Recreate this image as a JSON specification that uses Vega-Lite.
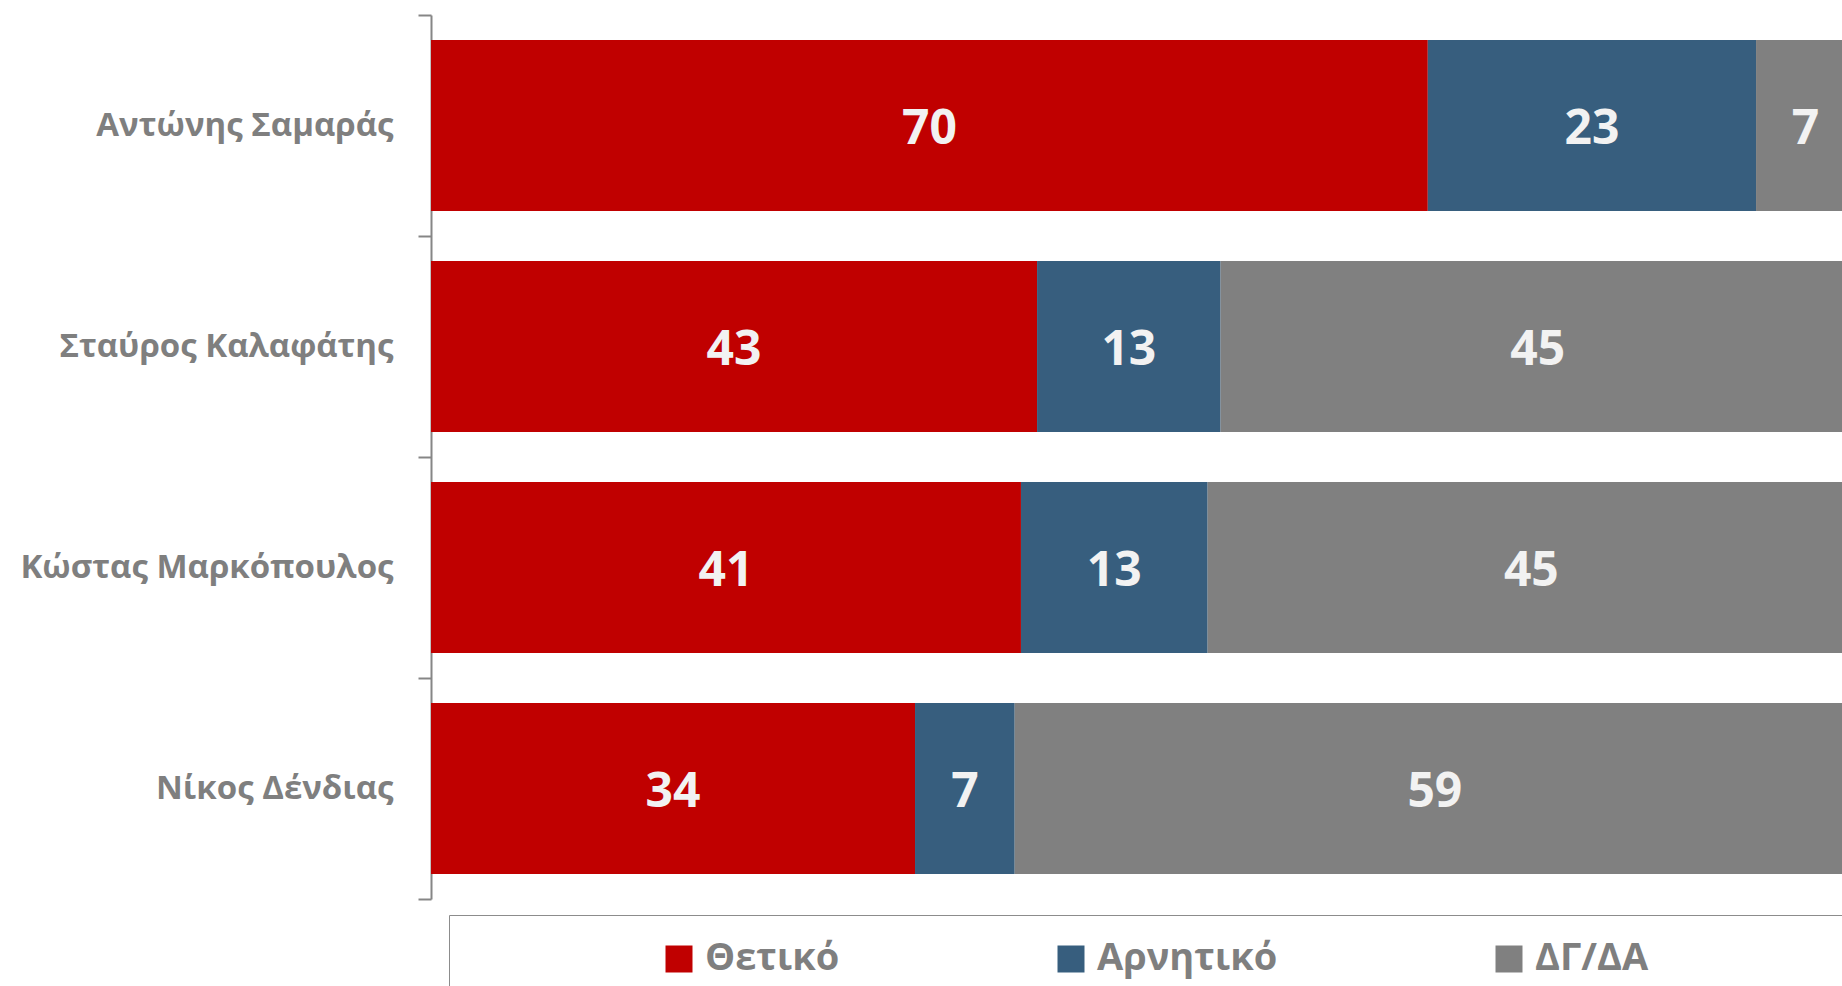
{
  "$schema": "https://vega.github.io/schema/vega-lite/v6.json",
  "autosize": {"type": "none"},
  "padding": {"left": 431, "top": 15, "right": 0, "bottom": 87},
  "width": 1424,
  "height": 884,
  "background": "white",
  "config": {"view": {"stroke": null}, "font": "Open Sans"},
  "data": {"values": [
    {"name": "Αντώνης Σαμαράς", "cat": "Θετικό", "o": 1, "v": 70.0},
    {"name": "Αντώνης Σαμαράς", "cat": "Αρνητικό", "o": 2, "v": 23.05},
    {"name": "Αντώνης Σαμαράς", "cat": "ΔΓ/ΔΑ", "o": 3, "v": 6.95},
    {"name": "Σταύρος Καλαφάτης", "cat": "Θετικό", "o": 1, "v": 42.56},
    {"name": "Σταύρος Καλαφάτης", "cat": "Αρνητικό", "o": 2, "v": 12.89},
    {"name": "Σταύρος Καλαφάτης", "cat": "ΔΓ/ΔΑ", "o": 3, "v": 44.55},
    {"name": "Κώστας Μαρκόπουλος", "cat": "Θετικό", "o": 1, "v": 41.43},
    {"name": "Κώστας Μαρκόπουλος", "cat": "Αρνητικό", "o": 2, "v": 13.11},
    {"name": "Κώστας Μαρκόπουλος", "cat": "ΔΓ/ΔΑ", "o": 3, "v": 45.46},
    {"name": "Νίκος Δένδιας", "cat": "Θετικό", "o": 1, "v": 33.99},
    {"name": "Νίκος Δένδιας", "cat": "Αρνητικό", "o": 2, "v": 7.0},
    {"name": "Νίκος Δένδιας", "cat": "ΔΓ/ΔΑ", "o": 3, "v": 59.01}
  ]},
  "encoding": {
    "y": {
      "field": "name", "type": "nominal", "sort": null,
      "scale": {"paddingInner": 0, "paddingOuter": 0},
      "axis": {
        "title": null,
        "labelFont": "Open Sans", "labelFontSize": 33, "labelFontWeight": "bold",
        "labelColor": "#7F7F7F", "labelPadding": 25, "labelLimit": 0,
        "tickSize": 13, "tickWidth": 2, "tickColor": "#868686", "tickBand": "extent",
        "domainColor": "#868686", "domainWidth": 2
      }
    }
  },
  "layer": [
    {
      "mark": {"type": "bar", "height": {"band": 0.774}},
      "encoding": {
        "x": {"field": "v", "type": "quantitative", "stack": "zero",
              "scale": {"domain": [0, 100], "nice": false}, "axis": null},
        "order": {"field": "o", "type": "quantitative"},
        "color": {
          "field": "cat", "type": "nominal",
          "scale": {"domain": ["Θετικό", "Αρνητικό", "ΔΓ/ΔΑ"], "range": ["#C00000", "#375E7E", "#808080"]},
          "legend": {
            "title": " ", "titleOrient": "right", "titlePadding": 200, "titleFontSize": 10,
            "orient": "none", "direction": "horizontal",
            "legendX": 18, "legendY": 900,
            "padding": 25, "strokeColor": "#8C8C8C",
            "symbolType": "square", "symbolSize": 729, "symbolStrokeWidth": 0, "symbolOffset": 186,
            "labelFont": "Open Sans", "labelFontSize": 38, "labelFontWeight": "bold",
            "labelColor": "#7F7F7F", "labelOffset": 7, "columnPadding": 26, "labelLimit": 0
          }
        }
      }
    },
    {
      "mark": {"type": "text", "font": "Open Sans", "fontWeight": "bold", "fontSize": 48, "color": "#F2F2F2", "baseline": "middle", "align": "center", "dy": 4},
      "encoding": {
        "x": {"field": "v", "type": "quantitative", "stack": "zero", "bandPosition": 0.5},
        "order": {"field": "o", "type": "quantitative"},
        "detail": {"field": "cat"},
        "text": {"field": "v", "type": "quantitative", "format": ".0f"}
      }
    }
  ]
}
